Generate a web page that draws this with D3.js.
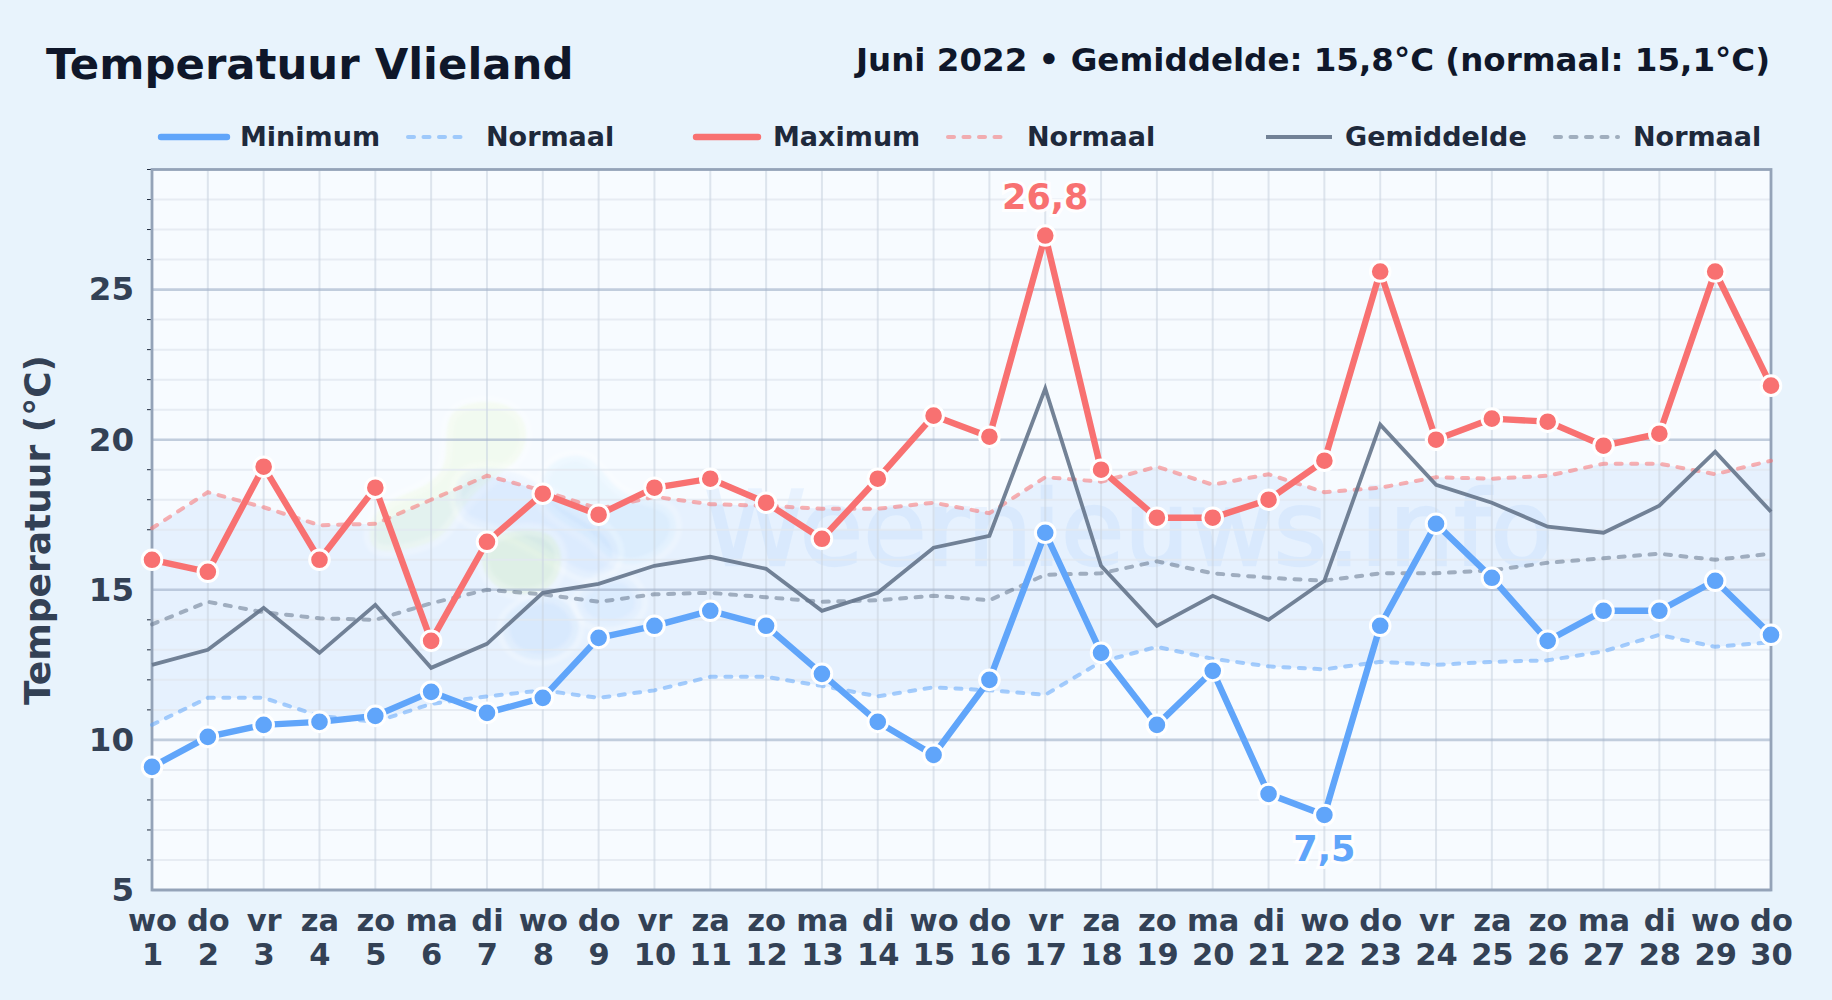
<!DOCTYPE html>
<html>
<head>
<meta charset="utf-8">
<script src="https://cdn.jsdelivr.net/npm/d3@7"></script>
<style>
html, body { margin: 0; padding: 0; background: #e8f3fc; }
svg { display: block; }
text { font-family: "DejaVu Sans", sans-serif; font-weight: bold; }
</style>
</head>
<body>
<div id="renderer"></div>
<script>
var days = d3.range(1, 31);
var dayNames = ['wo','do','vr','za','zo','ma','di','wo','do','vr','za','zo','ma','di','wo','do','vr','za','zo','ma','di','wo','do','vr','za','zo','ma','di','wo','do'];

var minimum = [9.1,10.1,10.5,10.6,10.8,11.6,10.9,11.4,13.4,13.8,14.3,13.8,12.2,10.6,9.5,12.0,16.9,12.9,10.5,12.3,8.2,7.5,13.8,17.2,15.4,13.3,14.3,14.3,15.3,13.5];
var maximum = [16.0,15.6,19.1,16.0,18.4,13.3,16.6,18.2,17.5,18.4,18.7,17.9,16.7,18.7,20.8,20.1,26.8,19.0,17.4,17.4,18.0,19.3,25.6,20.0,20.7,20.6,19.8,20.2,25.6,21.8];
var gemiddelde = [12.5,13.0,14.4,12.9,14.5,12.4,13.2,14.9,15.2,15.8,16.1,15.7,14.3,14.9,16.4,16.8,21.7,15.8,13.8,14.8,14.0,15.3,20.5,18.5,17.9,17.1,16.9,17.8,19.6,17.6];
var normaalMin = [10.5,11.4,11.4,10.8,10.6,11.2,11.45,11.65,11.4,11.65,12.1,12.1,11.8,11.45,11.75,11.65,11.5,12.6,13.1,12.7,12.45,12.35,12.6,12.5,12.6,12.65,12.95,13.5,13.1,13.25];
var normaalMax = [17.05,18.25,17.75,17.15,17.2,18.0,18.8,18.3,17.7,18.1,17.85,17.8,17.7,17.7,17.9,17.55,18.75,18.6,19.1,18.5,18.85,18.25,18.4,18.75,18.7,18.8,19.2,19.2,18.85,19.3];
var normaalGem = [13.85,14.6,14.25,14.05,14.0,14.55,15.0,14.85,14.6,14.85,14.9,14.75,14.6,14.65,14.8,14.65,15.5,15.55,15.95,15.55,15.4,15.3,15.55,15.55,15.65,15.9,16.05,16.2,16.0,16.2];
var yMajor = [5,10,15,20,25];
var yMinor = d3.range(5, 30).filter(function(v){ return v % 5 !== 0; });

var blue = '#60a5fa', red = '#f87171', slate = '#64748b';

var width = 1832, height = 1000;
var left = 152, right = 1771, top_ = 169.5, bottom = 890;

var root = d3.select('#renderer').append('svg')
    .attr('width', width)
    .attr('height', height);

var defs = root.append('defs');
defs.append('filter').attr('id', 'soft').append('feGaussianBlur').attr('stdDeviation', 1.5);

root.append('rect').attr('width', width).attr('height', height).attr('fill', '#e8f3fc');

var x = d3.scaleLinear().domain([1, 30]).range([left, right]);
var y = d3.scaleLinear().domain([5, 29]).range([bottom, top_]);

// plot background
root.append('rect')
    .attr('x', left).attr('y', top_)
    .attr('width', right - left).attr('height', bottom - top_)
    .attr('fill', '#f7fbff');

// band between the normal min and max
var band = d3.area()
    .x(function(d, i){ return x(days[i]); })
    .y0(function(d){ return y(d); })
    .y1(function(d, i){ return y(normaalMax[i]); });
root.append('path').datum(normaalMin)
    .attr('d', band)
    .attr('fill', blue)
    .attr('fill-opacity', 0.11);

// watermark
var blob = d3.line().curve(d3.curveBasisClosed);
var wm = root.append('g').attr('filter', 'url(#soft)');
function drawBlob(points, color, op){
    wm.append('path').attr('d', blob(points))
        .attr('fill', color).attr('fill-opacity', op)
        .attr('stroke', '#ffffff').attr('stroke-opacity', 0.22).attr('stroke-width', 12);
}
drawBlob([[452,405],[500,398],[530,420],[524,460],[490,478],[462,505],[445,540],[400,552],[365,552],[372,505],[420,490],[448,470],[445,430]], '#d4f2a8', 0.17);
drawBlob([[545,460],[588,450],[608,480],[628,498],[675,503],[680,542],[640,568],[610,562],[590,537],[560,522],[536,500]], '#93d0fb', 0.13);
drawBlob([[464,466],[520,468],[562,503],[614,528],[624,564],[590,588],[545,554],[500,530],[460,525],[452,490]], '#60a5fa', 0.08);
drawBlob([[486,535],[537,525],[563,543],[561,580],[537,596],[498,593],[478,566]], '#c8eca0', 0.25);
drawBlob([[506,610],[550,588],[580,613],[580,644],[545,665],[510,654],[500,630]], '#60a5fa', 0.1);
drawBlob([[575,590],[624,566],[648,600],[634,624],[600,630],[576,616]], '#60a5fa', 0.07);
root.append('text')
    .attr('x', 704).attr('y', 565)
    .style('font-weight', 'normal')
    .attr('font-size', 103)
    .attr('fill', blue).attr('stroke', blue).attr('stroke-width', 2.5)
    .attr('opacity', 0.09)
    .text('Weernieuws.info');

// grid
var grid = root.append('g');
grid.selectAll('.minor').data(yMinor).enter().append('line')
    .attr('x1', left).attr('x2', right)
    .attr('y1', function(d){ return y(d); }).attr('y2', function(d){ return y(d); })
    .attr('stroke', '#e2e8f0').attr('stroke-opacity', 0.8).attr('stroke-width', 2);
grid.selectAll('.vert').data(days).enter().append('line')
    .attr('x1', function(d){ return x(d); }).attr('x2', function(d){ return x(d); })
    .attr('y1', top_).attr('y2', bottom)
    .attr('stroke', '#cbd5e1').attr('stroke-opacity', 0.6).attr('stroke-width', 2);
grid.selectAll('.major').data(yMajor).enter().append('line')
    .attr('x1', left).attr('x2', right)
    .attr('y1', function(d){ return y(d); }).attr('y2', function(d){ return y(d); })
    .attr('stroke', '#a5b4cb').attr('stroke-opacity', 0.65).attr('stroke-width', 2.6);

// minor ticks
root.append('g').selectAll('line').data(yMinor.concat([29])).enter().append('line')
    .attr('x1', left - 5).attr('x2', left)
    .attr('y1', function(d){ return y(d); }).attr('y2', function(d){ return y(d); })
    .attr('stroke', '#1e293b').attr('stroke-width', 1);

// frame
root.append('rect')
    .attr('x', left).attr('y', top_)
    .attr('width', right - left).attr('height', bottom - top_)
    .attr('fill', 'none').attr('stroke', '#94a3b8').attr('stroke-width', 2.8);

// axes
var yAxis = root.append('g')
    .attr('transform', 'translate(' + left + ',0)')
    .call(d3.axisLeft(y).tickValues(yMajor).tickSize(0).tickPadding(18));
yAxis.select('.domain').remove();
yAxis.selectAll('text')
    .style('font-family', '"DejaVu Sans"').style('font-weight', 'bold')
    .attr('font-size', 32.5).attr('fill', '#334155');

var xAxis = root.append('g')
    .attr('transform', 'translate(0,' + bottom + ')')
    .call(d3.axisBottom(x).tickValues(days).tickSize(0).tickFormat(''));
xAxis.select('.domain').remove();
xAxis.selectAll('.tick').each(function(d, i){
    var t = d3.select(this);
    t.select('text').remove();
    t.append('text').attr('y', 41).attr('text-anchor', 'middle')
        .attr('font-size', 30.5).attr('fill', '#334155').text(dayNames[i]);
    t.append('text').attr('y', 75).attr('text-anchor', 'middle')
        .attr('font-size', 30.5).attr('fill', '#334155').text(d);
});

root.append('text')
    .attr('transform', 'translate(50,530) rotate(-90)')
    .attr('text-anchor', 'middle')
    .attr('font-size', 36).attr('fill', '#334155')
    .text('Temperatuur (°C)');

// lines
var line = d3.line()
    .x(function(d, i){ return x(days[i]); })
    .y(function(d){ return y(d); });

function drawDashed(values, color){
    root.append('path').datum(values)
        .attr('d', line).attr('fill', 'none')
        .attr('stroke', color).attr('stroke-opacity', 0.55)
        .attr('stroke-width', 4)
        .attr('stroke-dasharray', '6,9.5').attr('stroke-linecap', 'round');
}
drawDashed(normaalMin, blue);
drawDashed(normaalMax, red);
drawDashed(normaalGem, slate);

root.append('path').datum(gemiddelde)
    .attr('d', line).attr('fill', 'none')
    .attr('stroke', slate).attr('stroke-opacity', 0.9).attr('stroke-width', 3.8);

function drawSeries(values, color){
    root.append('path').datum(values)
        .attr('d', line).attr('fill', 'none')
        .attr('stroke', color).attr('stroke-width', 6.4);
    root.append('g').selectAll('circle').data(values).enter().append('circle')
        .attr('cx', function(d, i){ return x(days[i]); })
        .attr('cy', function(d){ return y(d); })
        .attr('r', 9.8)
        .attr('fill', color)
        .attr('stroke', '#ffffff').attr('stroke-width', 3);
}
drawSeries(maximum, red);
drawSeries(minimum, blue);

function drawNote(day, value, dy, color){
    root.append('text')
        .attr('x', x(day)).attr('y', y(value) + dy)
        .attr('text-anchor', 'middle')
        .attr('font-size', 35)
        .attr('fill', color)
        .attr('stroke', '#ffffff').attr('stroke-width', 6).attr('stroke-opacity', 0.9)
        .style('paint-order', 'stroke')
        .text(String(value).replace('.', ','));
}
drawNote(17, 26.8, -27, red);
drawNote(22, 7.5, 46, blue);

// titles
root.append('text').attr('x', 46).attr('y', 79)
    .attr('font-size', 43.4).attr('fill', '#0f172a')
    .text('Temperatuur Vlieland');
root.append('text').attr('x', 1770).attr('y', 71)
    .attr('text-anchor', 'end')
    .attr('font-size', 32.5).attr('fill', '#0f172a')
    .text('Juni 2022 • Gemiddelde: 15,8°C (normaal: 15,1°C)');

// legend
var legendLabels = ['Minimum','Normaal','Maximum','Normaal','Gemiddelde','Normaal'];
var legendColors = [blue, blue, red, red, slate, slate];
var legendX = [161, 408, 696, 948, 1266, 1555];
var legendEnd = [227, 464, 758, 1005, 1332, 1618];
var legendText = [240, 486, 773, 1027, 1345, 1633];
legendLabels.forEach(function(label, i){
    var dashed = i % 2 === 1;
    var l = root.append('line')
        .attr('x1', legendX[i]).attr('x2', legendEnd[i])
        .attr('y1', 137).attr('y2', 137)
        .attr('stroke', legendColors[i]);
    if(dashed){
        l.attr('stroke-width', 4).attr('stroke-opacity', 0.55)
            .attr('stroke-dasharray', '6,9.5').attr('stroke-linecap', 'round');
    } else if(i === 4){
        l.attr('stroke-width', 3.8).attr('stroke-opacity', 0.9);
    } else {
        l.attr('stroke-width', 6.4).attr('stroke-linecap', 'round');
    }
    root.append('text').attr('x', legendText[i]).attr('y', 146)
        .attr('font-size', 27).attr('fill', '#1e293b').text(label);
});
</script>
</body>
</html>
